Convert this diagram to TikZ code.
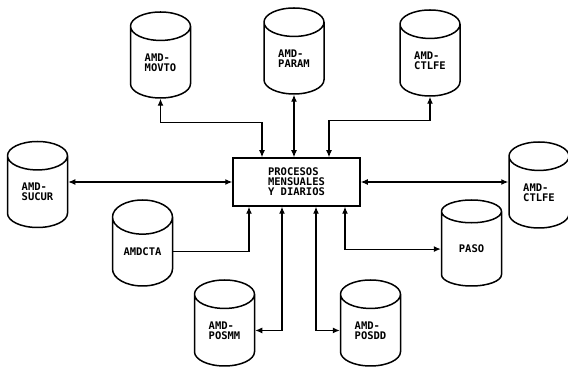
\documentclass[tikz,border=0pt]{standalone}
\usepackage{fontspec}
\newfontfamily\plotfont{DejaVu Sans Mono}
\usetikzlibrary{shapes.geometric,arrows.meta,positioning}

\begin{document}
\begin{tikzpicture}[x=1pt,y=1pt,
        font=\plotfont\bfseries\fontsize{10.5}{10}\selectfont,
        disco/.style={draw,line width=1.5pt,cylinder,shape border rotate=90,aspect=0.9,
            minimum width=60pt,minimum height=86pt,inner sep=0pt,align=left,anchor=shape center},
        proceso/.style={draw,line width=1.5pt,minimum width=127pt,minimum height=48pt,align=left},
        flujo/.style={line width=1.1pt,{Latex[length=7pt,width=6pt]}-{Latex[length=7pt,width=6pt]}},
        flecha/.style={line width=1.1pt,-{Latex[length=7pt,width=6pt]}}]
    \useasboundingbox (0,0) rectangle (568,369);
    \node[proceso] (proc) at (296.5,187) {PROCESOS\\MENSUALES\\Y DIARIOS};
    \node[disco] (movto) at (160.5,314) {AMD-\\MOVTO};
    \node[disco] (param) at (294,318) {AMD-\\PARAM};
    \node[disco] (ctlfea) at (430,316) {AMD-\\CTLFE};
    \node[disco] (sucur) at (37.5,184.5) {AMD-\\SUCUR};
    \node[disco] (ctlfeb) at (539,184) {AMD-\\CTLFE};
    \node[disco] (amdcta) at (142.5,126) {AMDCTA};
    \node[disco] (paso) at (471.5,126) {PASO};
    \node[disco] (posmm) at (224.5,46) {AMD-\\POSMM};
    \node[disco] (posdd) at (370.5,46) {AMD-\\POSDD};
    \draw[flujo] (movto.south) -- ++(0,-24) -| ([xshift=-34.5pt]proc.north);
    \draw[flujo] (param.south) -- (param.south |- proc.north);
    \draw[flujo] (ctlfea.south) -- ++(0,-24) -| ([xshift=32.5pt]proc.north);
    \draw[flujo] (proc.west) -- (proc.west -| sucur.east);
    \draw[flujo] (proc.east) -- (proc.east -| ctlfeb.west);
    \draw[flecha] (amdcta.east) -| ([xshift=-47.5pt]proc.south);
    \draw[flujo] ([xshift=-14.5pt]proc.south) |- (posmm.east);
    \draw[flujo] ([xshift=19.5pt]proc.south) |- (posdd.west);
    \draw[flujo] ([xshift=48.5pt]proc.south) |- (paso.west);
\end{tikzpicture}
\end{document}
